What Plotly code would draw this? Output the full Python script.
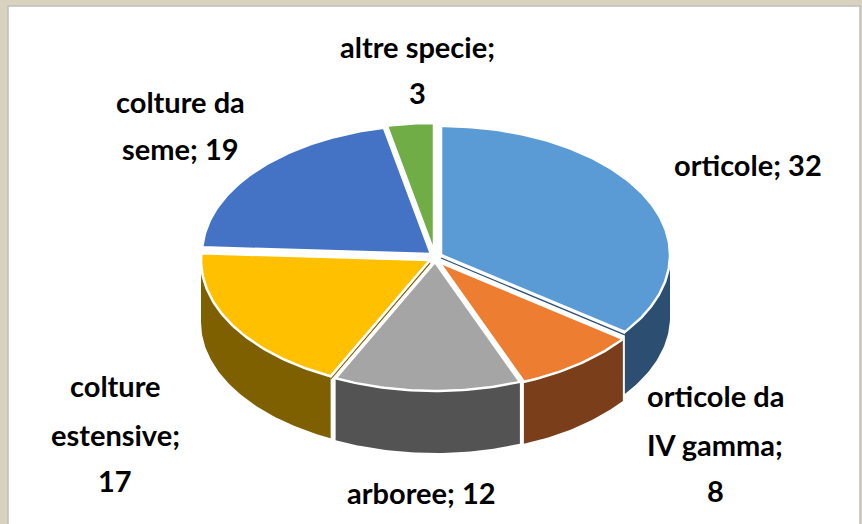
import numpy as np
import plotly.graph_objects as go

categories = ["orticole", "orticole da IV gamma", "arboree", "colture estensive", "colture da seme", "altre specie"]
values = [32, 8, 12, 17, 19, 3]
top_colors = ["#5B9BD5", "#ED7D31", "#A5A5A5", "#FFC000", "#4472C4", "#70AD47"]
wall_colors = ["#2C4F71", "#7A3E1A", "#535353", "#7F6000", "#2A4478", "#43682B"]
label_lines = [["orticole; 32"], ["orticole da", "IV gamma;", "8"], ["arboree; 12"],
               ["colture", "estensive;", "17"], ["colture da", "seme; 19"], ["altre specie;", "3"]]

# layout constants (pixels of the page, used as axis units)
W, H = 862, 524
RX, RY, DEPTH = 229, 129, 62
apex_x = [441, 439, 435, 430, 431, 434]
apex_y = [255, 262, 262, 260, 254, 252]
label_x = [748, 715, 421, 115, 180, 417]
label_y = [[164], [395, 444, 490], [492], [385, 434, 480], [101, 148], [46, 92]]

fig = go.Figure()
edges = np.concatenate([[0], np.cumsum(values)]) / sum(values) * 2 * np.pi


def arc(i, a, b):
    n = max(2, int((b - a) * 60))
    t = np.linspace(a, b, n)
    return apex_x[i] + RX * np.sin(t), apex_y[i] - RY * np.cos(t)


def poly(x, y, fill, line=None, width=0):
    fig.add_trace(go.Scatter(x=x, y=y, mode="lines", fill="toself", fillcolor=fill,
                             line=dict(color=line or fill, width=width),
                             hoverinfo="skip", showlegend=False))


# walls, back to front
for i in [0, 3, 1, 2]:
    a, b = max(edges[i], np.pi / 2), min(edges[i + 1], 3 * np.pi / 2)
    x, y = arc(i, a, b)
    poly(np.r_[x, x[::-1], x[0]], np.r_[y, y[::-1] + DEPTH, y[0]], wall_colors[i])

# thin visible bit of the cut faces
for i, ang in [(0, edges[1]), (3, edges[3])]:
    ex, ey = arc(i, ang, ang + 0.001)
    fig.add_trace(go.Scatter(x=[apex_x[i], ex[0]], y=[apex_y[i] + 3, ey[0] + 3], mode="lines",
                             line=dict(color=wall_colors[i], width=1.2),
                             hoverinfo="skip", showlegend=False))

# tops
for i in range(len(values)):
    x, y = arc(i, edges[i], edges[i + 1])
    poly(np.r_[apex_x[i], x, apex_x[i]], np.r_[apex_y[i], y, apex_y[i]],
         top_colors[i], "white", 2.5)

# labels
for i, lines in enumerate(label_lines):
    for line, ly in zip(lines, label_y[i]):
        fig.add_annotation(x=label_x[i], y=ly, text=f"<b>{line}</b>", showarrow=False,
                           xanchor="center", yanchor="middle",
                           font=dict(family="Lato, Carlito, sans-serif", size=29, color="#000000"))

ML, MT, MR = 8, 6, 2
fig.add_shape(type="rect", xref="paper", yref="paper", x0=0, x1=1, y0=-0.01, y1=1,
              line=dict(color="#BFBFBF", width=1.5), layer="below")
fig.update_layout(
    width=W, height=H, autosize=False,
    margin=dict(l=ML, r=MR, t=MT, b=0),
    paper_bgcolor="#D9D2BE", plot_bgcolor="#FFFFFF", showlegend=False,
    xaxis=dict(range=[ML, W - MR], visible=False, fixedrange=True),
    yaxis=dict(range=[H, MT], visible=False, fixedrange=True),
)
fig.write_html("out.html", config=dict(displayModeBar=False),
               post_script="document.body.style.margin='0';document.documentElement.style.overflow='hidden';")
